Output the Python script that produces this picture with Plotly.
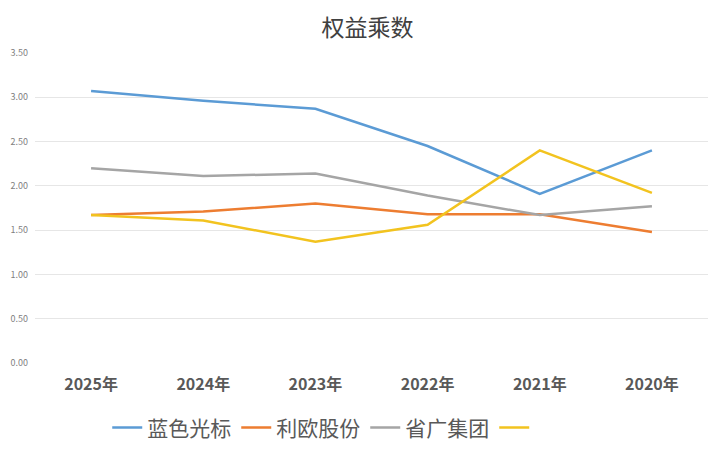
import plotly.graph_objects as go

years = ["2025年", "2024年", "2023年", "2022年", "2021年", "2020年"]
series_names = ["蓝色光标", "利欧股份", "省广集团", " "]
blue_vals = [3.07, 2.96, 2.87, 2.45, 1.91, 2.40]
orange_vals = [1.67, 1.71, 1.80, 1.68, 1.68, 1.48]
gray_vals = [2.20, 2.11, 2.14, 1.89, 1.67, 1.77]
yellow_vals = [1.67, 1.61, 1.37, 1.56, 2.40, 1.92]
y_ticks = [0, 0.5, 1.0, 1.5, 2.0, 2.5, 3.0, 3.5]

colors = ["#5B9BD5", "#ED7D31", "#A5A5A5", "#F2C31F"]
all_vals = [blue_vals, orange_vals, gray_vals, yellow_vals]

fig = go.Figure()
for name, vals, c in zip(series_names, all_vals, colors):
    fig.add_trace(go.Scatter(x=years, y=vals, mode="lines", name=name,
                             line=dict(color=c, width=2.5)))

fig.update_layout(
    width=719, height=455,
    paper_bgcolor="white", plot_bgcolor="white",
    margin=dict(l=27, r=19, t=45, b=100),
    title=dict(text="权益乘数", x=0.5, xanchor="center", y=0.956, yanchor="middle",
               font=dict(family="Noto Sans CJK SC", size=23, color="#404040")),
    font=dict(family="Noto Sans CJK SC", color="#595959"),
    xaxis=dict(type="category", range=[-0.5, 5.5], showgrid=False, zeroline=False,
               showline=False, ticks="", ticklabelstandoff=10, automargin=False,
               tickfont=dict(family="Noto Sans CJK SC", size=16, color="#595959", weight="bold")),
    yaxis=dict(range=[0, 3.5], tickvals=y_ticks, tickformat=".2f", automargin=False,
               showgrid=True, gridcolor="#E6E6E6", gridwidth=1, zeroline=False,
               tickfont=dict(family="Noto Sans CJK SC", size=9, color="#7F7F7F"),
               ticklabelstandoff=6),
    legend=dict(orientation="h", x=0.432, xanchor="center", y=-0.209, yanchor="middle",
                font=dict(family="Noto Sans CJK SC", size=21, color="#595959"),
                itemwidth=30, tracegroupgap=0),
    showlegend=True,
)

fig.write_html("out.html")
